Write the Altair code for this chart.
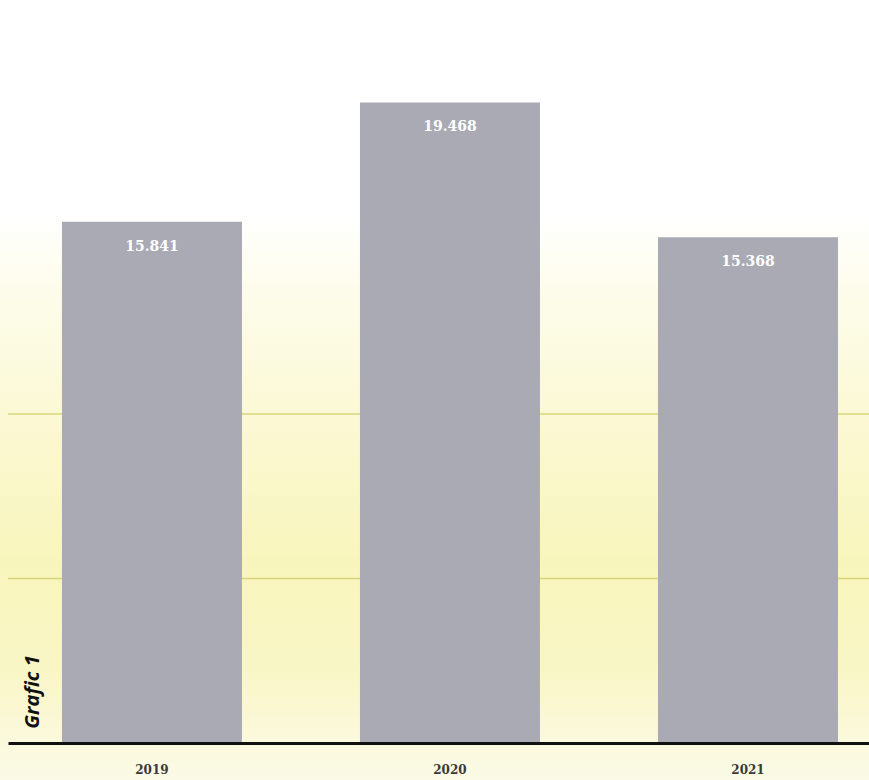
import altair as alt
import pandas as pd

years = ["2019", "2020", "2021"]
values = [15841, 19468, 15368]
grid_values = [5000, 10000]

df = pd.DataFrame({"year": years, "value": values})
grid_df = pd.DataFrame({"v": grid_values})
one = pd.DataFrame({"t": ["Grafic 1"]})

W, H = 861, 743
yscale = alt.Scale(domain=[0, 22580])
xscale = alt.Scale(paddingInner=0.396, paddingOuter=0.1426, align=0.635)

bg = alt.Chart(one).mark_rect(
    color=alt.LinearGradient(
        gradient="linear", x1=0, y1=0, x2=0, y2=1,
        stops=[
            alt.GradientStop(color="#ffffff", offset=0),
            alt.GradientStop(color="#ffffff", offset=0.27),
            alt.GradientStop(color="#fdfcea", offset=0.38),
            alt.GradientStop(color="#fbf8d2", offset=0.55),
            alt.GradientStop(color="#f8f5bc", offset=0.72),
            alt.GradientStop(color="#f9f6c6", offset=0.86),
            alt.GradientStop(color="#fbf9dc", offset=0.95),
            alt.GradientStop(color="#fafae6", offset=1),
        ],
    )
).encode(x=alt.value(-8), x2=alt.value(W), y=alt.value(0), y2=alt.value(780))

grid = alt.Chart(grid_df).mark_rule(color="#d6d77a", strokeWidth=1.5).encode(
    y=alt.Y("v:Q", scale=yscale, axis=None)
)

bars = alt.Chart(df).mark_bar(color="#a9aab4").encode(
    x=alt.X("year:N", scale=xscale, title=None,
            axis=alt.Axis(labelAngle=0, ticks=False, domainColor="#111111",
                          domainWidth=3, labelPadding=21, labelFont="DejaVu Serif",
                          labelFontSize=12, labelFontWeight="bold", labelColor="#3a3a3a",
                          zindex=1, grid=False)),
    y=alt.Y("value:Q", scale=yscale, axis=None),
)

labels = alt.Chart(df).transform_calculate(
    lab="replace(format(datum.value, ','), ',', '.')"
).mark_text(color="white", font="DejaVu Serif", fontSize=14, fontWeight="bold",
            baseline="middle", dy=25).encode(
    x=alt.X("year:N", scale=xscale),
    y=alt.Y("value:Q", scale=yscale),
    text="lab:N",
)

grafic = alt.Chart(one).mark_text(
    angle=270, font="Open Sans", fontStyle="italic", fontWeight="bold",
    fontSize=20, color="#111111", baseline="middle", align="center"
).encode(x=alt.value(25), y=alt.value(692), text="t:N")

chart = alt.layer(bg, grid, bars, labels, grafic).properties(
    width=W, height=H,
    autosize=alt.AutoSizeParams(type="none"),
    padding={"left": 8, "top": 0, "right": 0, "bottom": 37},
).configure_view(stroke=None).configure(background="white")

chart.save("out.html", embed_options={"renderer": "svg", "actions": False})
